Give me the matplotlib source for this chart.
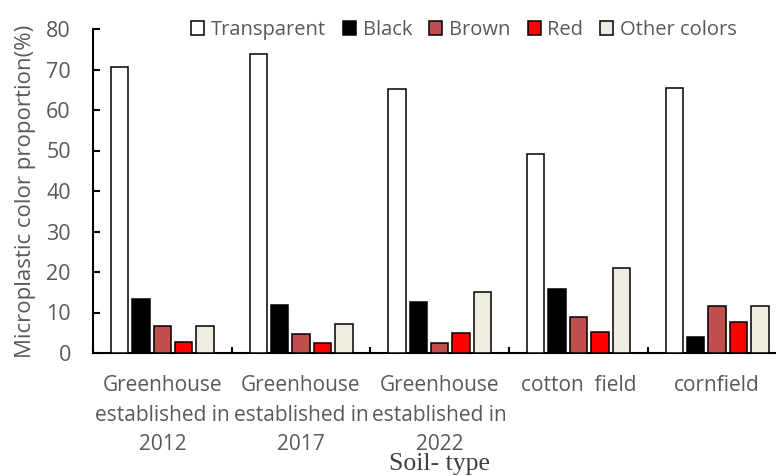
import matplotlib
matplotlib.use("Agg")
import matplotlib.pyplot as plt
import numpy as np

soil_types = ["Greenhouse\nestablished in\n2012",
              "Greenhouse\nestablished in\n2017",
              "Greenhouse\nestablished in\n2022",
              "cotton  field",
              "cornfield"]
colour_names = ["Transparent", "Black", "Brown", "Red", "Other colors"]
transparent = [70.7, 73.9, 65.1, 49.2, 65.4]
black = [13.3, 11.9, 12.6, 15.9, 4.0]
brown = [6.7, 4.8, 2.5, 8.8, 11.6]
red = [2.6, 2.4, 5.0, 5.3, 7.7]
other = [6.7, 7.2, 15.1, 21.1, 11.6]
fills = ["#FFFFFF", "#000000", "#C0504D", "#FF0000", "#EEECE1"]

plt.rcParams["font.family"] = ["Open Sans", "DejaVu Sans"]
grey = "#595959"

fig = plt.figure(figsize=(7.76, 4.75), dpi=100)
ax = fig.add_axes([93 / 776, 122 / 475, 693.5 / 776, 324 / 475])

x = np.arange(len(soil_types))
step = 0.1543
width = 0.125
series = [transparent, black, brown, red, other]
for i, (vals, name, col) in enumerate(zip(series, colour_names, fills)):
    ax.bar(x + (i - 2) * step, vals, width, color=col, edgecolor="black",
           linewidth=1.1, label=name, zorder=3)

ax.set_xlim(-0.5, len(soil_types) - 0.5)
ax.set_ylim(0, 80)
ax.set_yticks(range(0, 81, 10))

# category labels in the middle, separator ticks between groups
ax.set_xticks(x)
ax.set_xticklabels(soil_types, linespacing=1.52)
ax.set_xticks(np.arange(-0.5, len(soil_types), 1.0), minor=True)
ax.tick_params(axis="x", which="major", length=0, pad=16,
               labelsize=15, labelcolor=grey)
ax.tick_params(axis="x", which="minor", direction="in", length=4.5, width=1.5)
ax.tick_params(axis="y", direction="in", length=5, width=1.5, pad=16,
               labelsize=15.5, labelcolor=grey)

for side in ["top", "right"]:
    ax.spines[side].set_visible(False)
for side in ["left", "bottom"]:
    ax.spines[side].set_linewidth(1.5)

ax.set_ylabel("Microplastic color proportion(%)", fontsize=16, color=grey)
ax.yaxis.set_label_coords(-0.082, 0.5)
ax.set_xlabel("Soil- type", fontsize=18.5, color="#404040",
              family="Liberation Serif")
ax.xaxis.set_label_coords(0.499, -0.31)

fig.legend(loc="center", bbox_to_anchor=(464 / 776, 1 - 30 / 475), ncol=5,
           frameon=False, fontsize=14.5, labelcolor=grey,
           handlelength=0.65, handleheight=0.65, handletextpad=0.33,
           columnspacing=0.85, borderpad=0)

fig.savefig("out.png", dpi=100)
